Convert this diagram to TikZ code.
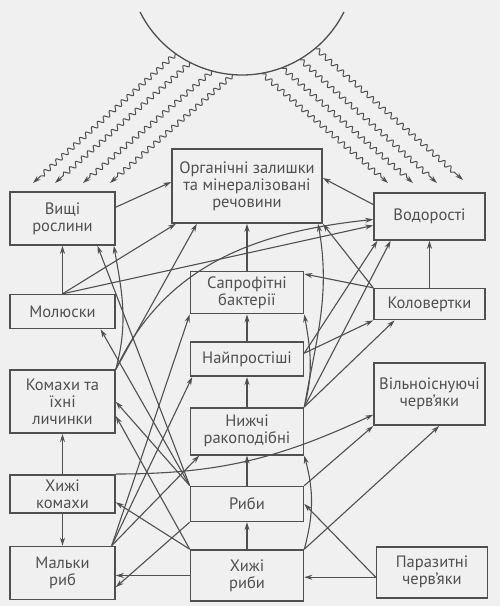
\documentclass[tikz,border=0pt]{standalone}
\usepackage{fontspec}
\setmainfont{PT Sans}
\usetikzlibrary{arrows.meta, positioning, calc, decorations.pathmorphing}
\definecolor{ink}{HTML}{505050}
\definecolor{paper}{HTML}{F0F0F0}
\newcommand{\boxfont}{\fontsize{16.5}{17}\selectfont}

\begin{document}
\begin{tikzpicture}[
    x=1pt, y=1pt,
    box/.style={rectangle, draw=ink, line width=1.6pt, align=center, inner sep=2pt,
                text=ink, font=\boxfont},
    lbox/.style={box, minimum width=105pt},
    mbox/.style={box, minimum width=113pt},
    rbox/.style={box, minimum width=111pt},
    arr/.style={-{Stealth[length=8pt, width=5pt]}, line width=1.1pt, draw=ink},
    ray/.style={arr, line width=1pt, decorate,
                decoration={snake, amplitude=2.4pt, segment length=8pt,
                            pre length=1pt, post length=8pt}}
]
    \useasboundingbox (0,0) rectangle (500,-606);
    \fill[paper] (0,0) rectangle (500,-606);

    % sun
    \coordinate (sun) at (242,39);
    \draw[ink, line width=1.3pt] ($(sun)+(206.6:114)$) arc[start angle=206.6, end angle=333.4, radius=114];
    \foreach \a/\ex/\ey in {234.5/33/183, 243/55/183, 254.9/83/183, 265.5/110/183,
                            279.9/388/183, 290.6/413/183, 300.5/437/183, 310.1/463/180}
        \draw[ray] ($(sun)+(\a:114)$) -- (\ex,-\ey);

    % left column
    \node[lbox, minimum height=53pt] (vyshchi) at (62.5,-218.5) {Вищі\\рослини};
    \node[lbox, minimum height=34pt, below=48pt of vyshchi] (molyusky) {Молюски};
    \node[lbox, minimum height=63pt, below=40pt of molyusky] (komakhy) {Комахи та\\їхні\\личинки};
    \node[lbox, minimum height=38pt, below=40pt of komakhy] (khkom) {Хижі\\комахи};
    \node[lbox, minimum height=53pt, below=32pt of khkom] (malky) {Мальки\\риб};

    % middle column
    \node[box, minimum width=150pt, minimum height=74pt] (organ) at (247,-186)
        {Органічні залишки\\та мінералізовані\\речовини};
    \node[mbox, minimum height=42pt, below=47pt of organ] (sapro) {Сапрофітні\\бактерії};
    \node[mbox, minimum height=34pt, below=27pt of sapro] (naipr) {Найпростіші};
    \node[mbox, minimum height=47pt, below=30pt of naipr] (nyzhchi) {Нижчі\\ракоподібні};
    \node[mbox, minimum height=35pt, below=30pt of nyzhchi] (ryby) {Риби};
    \node[mbox, minimum height=51pt, below=27pt of ryby] (khryby) {Хижі\\риби};

    % right column
    \node[rbox, minimum height=47pt] (vodor) at (429.5,-216.5) {Водорості};
    \node[rbox, minimum height=31pt, below=47pt of vodor] (kolov) {Коловертки};
    \node[rbox, minimum height=62pt, below=42pt of kolov] (vilno) {Вільноіснуючі\\черв’яки};
    \node[rbox, minimum height=51pt, below=120pt of vilno, xshift=2.5pt] (paraz) {Паразитні\\черв’яки};

    \draw[arr] (molyusky) -- (vyshchi);
    \draw[arr] (khkom) -- (komakhy);
    \draw[arr] (khkom) -- (malky);
    \draw[arr] (khryby.west) -- (khryby.west -| malky.east);
    \draw[arr] (paraz.185) -- (paraz.185 -| khryby.east);
    \draw[arr] (kolov) -- (vodor);
    \draw[arr] (sapro) -- (organ);
    \draw[arr] (naipr) -- (sapro);
    \draw[arr] (nyzhchi) -- (naipr);
    \draw[arr] (ryby) -- (nyzhchi);
    \draw[arr] (khryby) -- (ryby);

    \draw[arr] (vyshchi.12) -- (organ.177);
    \draw[arr] (vodor.168.5) -- (organ.6);
    \draw[arr] (molyusky.north) -- (organ.-152);
    \draw[arr] (molyusky.north) -- (vodor.189.5);
    \draw[arr] (komakhy.north east) -- (organ.-143);
    \draw[arr] (komakhy.north east) to[out=65, in=186] (vodor.183.5);
    \draw[arr] (komakhy.north east) to[out=75, in=-80] (vyshchi.-28);
    \draw[arr] (ryby.north west) -- (vyshchi.-38);
    \draw[arr] (ryby.north west) -- (molyusky.-25);
    \draw[arr] (ryby.north west) -- (komakhy.east);
    \draw[arr] (khryby.north west) -- (komakhy.-15);
    \draw[arr] (khryby.north west) -- (khkom.-9);
    \draw[arr] (malky.29) -- (sapro.south west);
    \draw[arr] (malky.29) -- (naipr.-162);
    \draw[arr] (malky.29) -- (nyzhchi.-153);
    \draw[arr] (khkom.north east) to[out=0, in=205] (vilno.-160);
    \draw[arr] (ryby.south west) -- (malky.-15);
    \draw[arr] (ryby.north east) -- (vilno.south west);
    \draw[arr] (khryby.north east) -- (vilno.-73);
    \draw[arr] (paraz.185) -- (ryby.east);
    \draw[arr] (khryby.north east) to[out=75, in=-75] (nyzhchi.south east);
    \draw[arr] (nyzhchi.north east) to[out=75, in=-80] (sapro.south east);
    \draw[arr] (nyzhchi.north east) to[out=80, in=-80] (organ.-28);
    \draw[arr] (kolov.north west) -- (sapro.18);
    \draw[arr] (kolov.north west) -- (organ.south east);
    \draw[arr] (naipr.6) -- (vodor.-155);
    \draw[arr] (naipr.6) -- (kolov.south west);
    \draw[arr] (nyzhchi.north east) -- (vodor.-148);
    \draw[arr] (nyzhchi.north east) -- (kolov.-155);
\end{tikzpicture}
\end{document}
